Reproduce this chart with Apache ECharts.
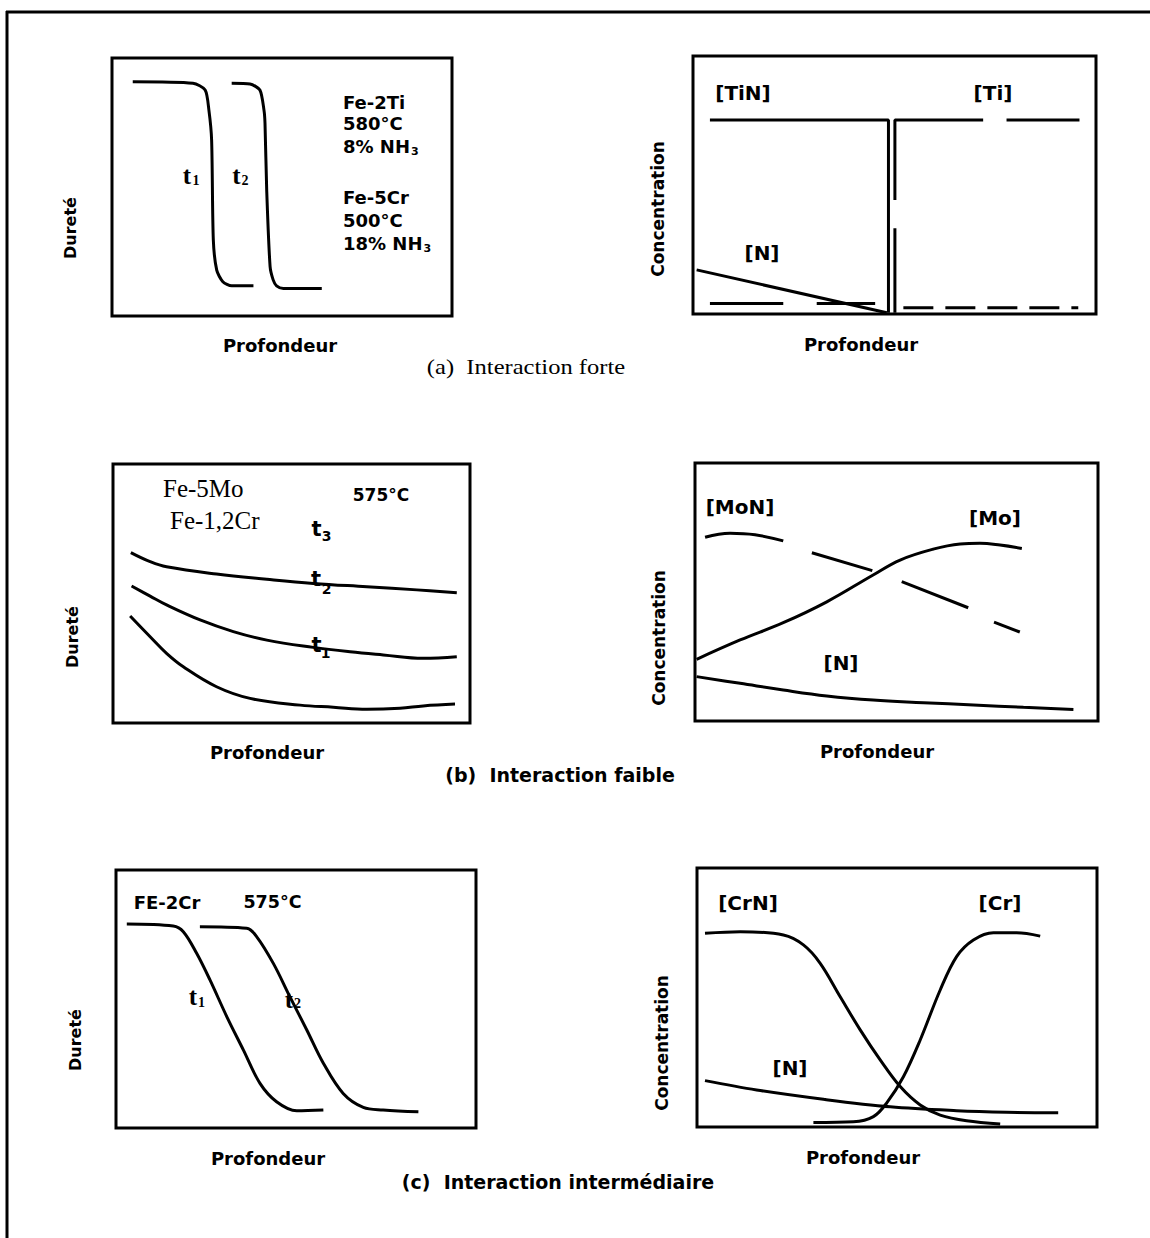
<!DOCTYPE html>
<html>
<head>
<meta charset="utf-8">
<script src="https://cdn.jsdelivr.net/npm/echarts@6/dist/echarts.min.js"></script>
<style>
html,body{margin:0;padding:0;background:#fff;}
#chart{width:1150px;height:1238px;}
</style>
</head>
<body>
<div id="chart"></div>
<script>
// ---------------- DATA (normalised 0-100 units inside each panel) ----------------
// Panel (a) left : Dureté vs Profondeur
const A1_T1 = [[6.1,90.8],[23.8,90.2],[27.4,87.6],[28.5,79.8],[29.3,68.2],[29.8,29.5],[30.8,17.8],[32.6,13.3],[35.2,11.7],[41.6,11.7]];
const A1_T2 = [[35.2,90.2],[40.6,89.9],[43.5,87.6],[44.7,79.8],[45.0,74.7],[45.5,48.8],[46.5,19.1],[47.4,14.0],[48.4,11.7],[50.4,10.7],[61.7,10.7]];
// Panel (a) right : Concentration vs Profondeur
const A2_TIN = [[4.2,75.2],[48.5,75.2],[48.5,0.5]];
const A2_TI_SEGMENTS = [
  [[50.1,0.5],[50.1,33.2]],
  [[50.1,44.2],[50.1,75.2],[72.0,75.2]],
  [[77.8,75.2],[95.9,75.2]]
];
const A2_N = [[0.9,17.1],[48.1,0.5]];
const A2_LOW_LEFT_SEGMENTS = [[[4.2,4.1],[22.4,4.1]],[[30.7,4.1],[45.2,4.1]]];
const A2_LOW_RIGHT = [[52.2,2.4],[95.6,2.4]];

// Panel (b) left
const B1_TOP = [[5.0,65.8],[10.4,62.3],[15.0,60.3],[29.0,57.5],[43.1,55.5],[56.1,53.9],[71.1,52.6],[85.1,51.4],[96.3,50.3]];
const B1_MID = [[5.2,52.9],[10.4,49.0],[15.0,45.6],[24.4,39.8],[33.7,35.3],[43.1,32.0],[56.1,29.2],[66.4,27.5],[75.7,26.3],[86.9,25.0],[96.3,25.6]];
const B1_LOW = [[4.8,41.3],[10.4,33.3],[15.0,26.9],[19.7,21.7],[29.0,14.0],[38.4,9.5],[52.4,6.9],[61.7,6.1],[71.1,5.3],[80.4,5.7],[86.9,6.6],[95.8,7.3]];
// Panel (b) right
const B2_MON_SEGMENTS = [
  [[2.5,71.2],[8.7,72.8],[14.9,72.2],[21.9,69.8]],
  [[29.0,65.2],[44.0,58.3]],
  [[51.3,54.0],[67.8,43.9]],
  [[74.2,38.3],[80.6,34.5]]
];
const B2_MO = [[0.4,23.9],[11.2,31.4],[21.9,38.1],[32.7,46.2],[44.2,56.6],[50.9,62.4],[59.1,66.6],[65.8,68.6],[70.7,68.9],[75.7,68.2],[81.1,66.9]];
const B2_N = [[0.4,17.2],[11.2,14.6],[21.9,12.0],[32.7,9.7],[44.2,8.1],[56.7,7.1],[69.1,6.2],[81.5,5.3],[93.9,4.5]];

// Panel (c) left
const C1_T1 = [[3.0,79.1],[15.9,78.3],[18.7,76.1],[22.4,67.7],[26.1,57.4],[30.8,43.1],[35.4,30.2],[40.0,17.3],[44.6,10.2],[50.2,6.7],[57.6,7.0]];
const C1_T2 = [[23.3,78.0],[36.3,77.4],[39.1,74.1],[43.7,63.8],[48.3,50.9],[53.0,38.0],[57.6,25.1],[63.1,13.4],[68.7,8.0],[74.2,7.0],[84.0,6.3]];
// Panel (c) right
const C2_CRN = [[2.0,74.8],[10.8,75.4],[21.6,74.1],[26.6,70.3],[30.8,63.2],[35.8,50.3],[40.8,37.5],[45.8,25.9],[50.8,15.6],[55.8,8.5],[60.8,4.6],[67.4,2.4],[75.8,1.2]];
const C2_CR = [[29.1,1.7],[39.1,2.0],[44.1,4.0],[47.4,9.2],[51.6,19.4],[55.8,33.6],[60.8,52.9],[64.9,65.8],[69.1,72.2],[74.1,75.0],[79.9,75.0],[85.8,73.7]];
const C2_N = [[2.0,17.9],[14.9,14.3],[31.6,10.7],[48.3,7.8],[64.9,6.3],[77.4,5.7],[90.3,5.5]];

// Text
const AXIS_X = 'Profondeur';
const AXIS_Y_LEFT = 'Dureté';
const AXIS_Y_RIGHT = 'Concentration';
const CAPTIONS = ['(a)  Interaction forte', '(b)  Interaction faible', '(c)  Interaction intermédiaire'];
const A1_NOTES = ['Fe-2Ti', '580°C', '8% NH', 'Fe-5Cr', '500°C', '18% NH'];
const B1_NOTES = ['Fe-5Mo', 'Fe-1,2Cr', '575°C'];
const C1_NOTES = ['FE-2Cr', '575°C'];
const SPECIES = ['[TiN]', '[Ti]', '[N]', '[MoN]', '[Mo]', '[CrN]', '[Cr]'];

// ---------------- LAYOUT ----------------
const GRIDS = [
  {left:112, top:58,  width:340, height:258},
  {left:693, top:56,  width:403, height:258},
  {left:113, top:464, width:357, height:259},
  {left:695, top:463, width:403, height:258},
  {left:116, top:870, width:360, height:258},
  {left:697, top:868, width:400, height:259}
];

const SANS = '"DejaVu Sans", sans-serif';
const SERIF = '"Liberation Serif", "Times New Roman", serif';

const chart = echarts.init(document.getElementById('chart'), null, {renderer:'svg'});

function ln(data, gi, smooth, type) {
  return {
    type:'line', xAxisIndex:gi, yAxisIndex:gi, data:data,
    symbol:'none', showSymbol:false, smooth: smooth || false,
    lineStyle:{color:'#000', width:3, type: type || 'solid', cap:'butt'},
    silent:true, animation:false, z:3
  };
}

const series = [];
series.push(ln(A1_T1,0,0.25), ln(A1_T2,0,0.25));
series.push(ln(A2_TIN,1,false), ln(A2_N,1,false));
A2_TI_SEGMENTS.forEach(s => series.push(ln(s,1,false)));
A2_LOW_LEFT_SEGMENTS.forEach(s => series.push(ln(s,1,false)));
series.push(ln(A2_LOW_RIGHT,1,false,[30,12]));
series.push(ln(B1_TOP,2,0.4), ln(B1_MID,2,0.4), ln(B1_LOW,2,0.4));
B2_MON_SEGMENTS.forEach(s => series.push(ln(s,3,0.4)));
series.push(ln(B2_MO,3,0.4), ln(B2_N,3,0.4));
series.push(ln(C1_T1,4,0.35), ln(C1_T2,4,0.35));
series.push(ln(C2_CRN,5,0.35), ln(C2_CR,5,0.35), ln(C2_N,5,0.35));

const grid = GRIDS.map(g => Object.assign({show:true, borderColor:'#000', borderWidth:3, backgroundColor:'transparent', containLabel:false}, g));
const xAxis = GRIDS.map((g,i) => ({type:'value', gridIndex:i, min:0, max:100, show:false}));
const yAxis = GRIDS.map((g,i) => ({type:'value', gridIndex:i, min:0, max:100, show:false}));

// measuring helper for subscripts
const mctx = document.createElement('canvas').getContext('2d');
function measure(txt, font) { mctx.font = font; return mctx.measureText(txt).width; }

function txt(text, x, y, size, opts) {
  opts = opts || {};
  const fam = opts.family || SANS;
  const weight = opts.weight || 'bold';
  return {
    type:'text', x:x, y:y, rotation: opts.rotation || 0,
    scaleX: opts.scaleX || 1, scaleY: 1, silent:true, z:10,
    style:{
      text:text, fill:'#000',
      font: weight + ' ' + size + 'px ' + fam,
      fontSize:size, fontFamily:fam, fontWeight:weight,
      textAlign: opts.align || 'center', align: opts.align || 'center',
      textVerticalAlign:'middle', verticalAlign:'middle'
    }
  };
}

const g = [];
// outer frame
g.push({type:'line', shape:{x1:6, y1:12, x2:1150, y2:12}, style:{stroke:'#000', lineWidth:3}, silent:true});
g.push({type:'line', shape:{x1:7, y1:11, x2:7, y2:1238}, style:{stroke:'#000', lineWidth:3}, silent:true});

// axis titles
[[280,345],[861,344],[267,752],[877,751],[268,1158],[863,1157]].forEach(p => g.push(txt(AXIS_X, p[0], p[1], 18)));
[[70,228],[72,637],[75,1040]].forEach(p => g.push(txt(AXIS_Y_LEFT, p[0], p[1], 16, {rotation:Math.PI/2})));
[[658,209],[659,638],[662,1043]].forEach(p => g.push(txt(AXIS_Y_RIGHT, p[0], p[1], 17, {rotation:Math.PI/2})));

// captions
g.push(txt(CAPTIONS[0], 526, 367, 21, {family:SERIF, weight:'normal', scaleX:1.17}));
g.push(txt(CAPTIONS[1], 560, 775, 19));
g.push(txt(CAPTIONS[2], 558, 1182, 19));

// panel (a) left notes
const noteY = [102, 123, 146, 197, 220, 243];
A1_NOTES.forEach((t,i) => {
  g.push(txt(t, 343, noteY[i], 18, {align:'left'}));
  if (t.indexOf('NH') >= 0) {
    const w = measure(t, 'bold 18px ' + SANS);
    g.push(txt('3', 343 + w + 1, noteY[i] + 5, 11, {align:'left'}));
  }
});
// t labels panel (a) left (serif bold)
g.push(txt('t', 187, 175, 25, {family:SERIF}));
g.push(txt('1', 196, 180, 14, {family:SERIF, align:'center'}));
g.push(txt('t', 236.5, 175, 25, {family:SERIF}));
g.push(txt('2', 245, 180, 14, {family:SERIF, align:'center'}));

// panel (a) right species
g.push(txt(SPECIES[0], 743, 93, 20));
g.push(txt(SPECIES[1], 993, 93, 20));
g.push(txt(SPECIES[2], 762, 253, 20));

// panel (b) left
g.push(txt(B1_NOTES[0], 163, 488, 25, {family:SERIF, weight:'normal', align:'left'}));
g.push(txt(B1_NOTES[1], 170, 520, 25, {family:SERIF, weight:'normal', align:'left'}));
g.push(txt(B1_NOTES[2], 381, 495, 17));
g.push(txt('t', 316.5, 529, 21));
g.push(txt('3', 326.5, 536, 14));
g.push(txt('t', 316, 579, 21));
g.push(txt('2', 326.5, 589, 14));
g.push(txt('t', 316.5, 645, 21));
g.push(txt('1', 325.5, 653, 14));

// panel (b) right species
g.push(txt(SPECIES[3], 740, 507, 20));
g.push(txt(SPECIES[4], 995, 518, 20));
g.push(txt(SPECIES[2], 841, 663, 20));

// panel (c) left
g.push(txt(C1_NOTES[0], 167, 902, 18));
g.push(txt(C1_NOTES[1], 272.5, 902, 17.5));
g.push(txt('t', 193, 996, 25, {family:SERIF}));
g.push(txt('1', 201.5, 1002, 14, {family:SERIF}));
g.push(txt('t', 289, 999, 25, {family:SERIF}));
g.push(txt('2', 297.5, 1003, 14, {family:SERIF}));

// panel (c) right species
g.push(txt(SPECIES[5], 748, 903, 20));
g.push(txt(SPECIES[6], 1000, 903, 20));
g.push(txt(SPECIES[2], 790, 1068, 20));

chart.setOption({
  backgroundColor:'#fff',
  animation:false,
  grid:grid, xAxis:xAxis, yAxis:yAxis,
  series:series,
  graphic:g
});
</script>
</body>
</html>
